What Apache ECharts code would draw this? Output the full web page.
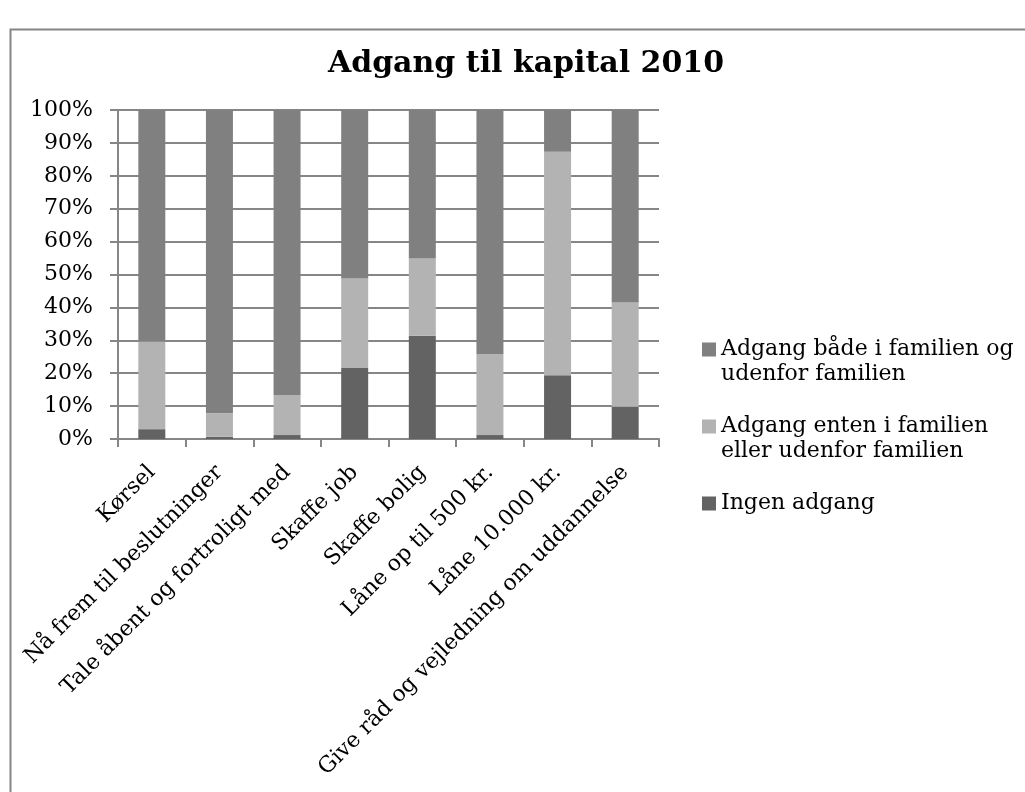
<!DOCTYPE html>
<html>
<head>
<meta charset="utf-8">
<script src="https://cdn.jsdelivr.net/npm/echarts@6/dist/echarts.min.js"></script>
<style>
html,body{margin:0;padding:0;background:#fff;}
#chart{width:1025px;height:792px;}
</style>
</head>
<body>
<div id="chart"></div>
<script>
const categories = ["Kørsel", "Nå frem til beslutninger", "Tale åbent og fortroligt med", "Skaffe job", "Skaffe bolig", "Låne op til 500 kr.", "Låne 10.000 kr.", "Give råd og vejledning om uddannelse"];
const seriesNames = ["Adgang både i familien og\nudenfor familien", "Adgang enten i familien\neller udenfor familien", "Ingen adgang"];
const ingenAdgang = [3.0, 0.7, 1.2, 21.7, 31.4, 1.2, 19.4, 9.8];
const adgangEnten = [26.6, 7.1, 12.2, 27.1, 23.5, 24.6, 67.9, 31.7];
const adgangBegge = [70.4, 92.2, 86.6, 51.2, 45.1, 74.2, 12.7, 58.5];
const yTicks = [0, 10, 20, 30, 40, 50, 60, 70, 80, 90, 100];

const FONT = "DejaVu Serif";
const ICON = 'path://M0,0H14V14H0Z M0,38.99H0.01V39H0Z';
const chart = echarts.init(document.getElementById('chart'), null, {renderer: 'canvas'});
const option = {
  backgroundColor: '#fff',
  animation: false,
  title: {
    text: 'Adgang til kapital 2010',
    left: 521, top: 44, textAlign: 'center',
    textStyle: {fontFamily: FONT, fontWeight: 'bold', fontSize: 30, color: '#000'}
  },
  graphic: [{
    type: 'rect', left: 8, top: 27, silent: true,
    shape: {width: 1100, height: 900},
    style: {fill: 'none', stroke: '#868686', lineWidth: 2}
  }],
  legend: {
    orient: 'vertical', left: 702, top: 337, padding: 0,
    itemWidth: 14, itemHeight: 39, itemGap: 27,
    data: [
      {name: seriesNames[0], icon: ICON},
      {name: seriesNames[1], icon: ICON},
      {name: seriesNames[2], icon: ICON}
    ],
    formatter: function (n) { return n.indexOf('\n') >= 0 ? n : n + '\n '; },
    textStyle: {fontFamily: FONT, fontSize: 22, color: '#000', lineHeight: 25}
  },
  grid: {left: 118, right: 366, top: 110, bottom: 353, containLabel: false},
  xAxis: {
    type: 'category', data: categories,
    axisLine: {show: true, lineStyle: {color: '#868686', width: 2}},
    axisTick: {show: true, length: 8, alignWithLabel: false, lineStyle: {color: '#868686', width: 2}},
    axisLabel: {rotate: 45, interval: 0, margin: 30, fontFamily: FONT, fontSize: 22, color: '#000'}
  },
  yAxis: {
    type: 'value', min: 0, max: 100, interval: 10,
    axisLine: {show: true, lineStyle: {color: '#868686', width: 2}},
    axisTick: {show: true, length: 8, lineStyle: {color: '#868686', width: 2}},
    splitLine: {show: true, lineStyle: {color: '#868686', width: 2}},
    axisLabel: {
      margin: 25, fontFamily: FONT, fontSize: 22, color: '#000',
      formatter: function (v) { return yTicks.indexOf(v) >= 0 ? v + '%' : ''; }
    }
  },
  series: [
    {name: seriesNames[2], type: 'bar', stack: 'a', barWidth: 27, data: ingenAdgang, itemStyle: {color: '#636363'}},
    {name: seriesNames[1], type: 'bar', stack: 'a', barWidth: 27, data: adgangEnten, itemStyle: {color: '#b3b3b3'}},
    {name: seriesNames[0], type: 'bar', stack: 'a', barWidth: 27, data: adgangBegge, itemStyle: {color: '#808080'}}
  ]
};
chart.setOption(option);
</script>
</body>
</html>
